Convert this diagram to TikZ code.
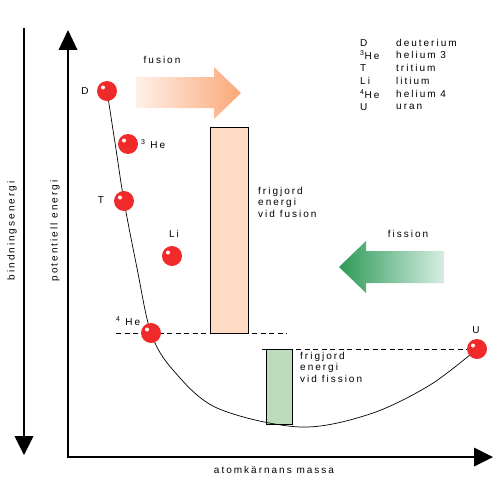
\documentclass[tikz,border=0pt]{standalone}
\usepackage{fontspec}
\setmainfont{Liberation Sans}[LetterSpace=20]
\begin{document}
\begin{tikzpicture}[x=1pt,y=-1pt,
  txt/.style={inner sep=0pt,font=\fontsize{10}{11.5}\selectfont},
  ball/.style={circle,fill=ballred,minimum size=20pt,inner sep=0pt,
    path picture={\fill[white] ([xshift=-4pt,yshift=3.5pt]path picture bounding box.center) circle (2pt);}},
  axisline/.style={line width=1.2pt},
  tip/.style={fill=black},
  dashline/.style={dashed,dash pattern=on 5pt off 3.5pt,line width=0.7pt}
]
\definecolor{ballred}{HTML}{F02A2A}
\definecolor{peach}{HTML}{FFDBC6}
\definecolor{paleg}{HTML}{BCDDBC}
\definecolor{plight}{HTML}{FEF0E8}
\definecolor{pdark}{HTML}{FBA878}
\definecolor{gdark}{HTML}{2E9A58}
\definecolor{glight}{HTML}{D6EEE2}
\useasboundingbox (0,0) rectangle (500,487);
% axes
\coordinate (ya) at (68,457);
\coordinate (yb) at (68,48);
\coordinate (xb) at (477,457);
\draw[axisline] (yb) -- (ya) -- (xb);
\fill[tip] (68,30) -- (77.5,50) -- (58.5,50) -- cycle;
\fill[tip] (493,457) -- (474,447.5) -- (474,466.5) -- cycle;
\coordinate (la) at (24,28);
\coordinate (lb) at (24,437);
\draw[axisline] (la) -- (lb);
\fill[tip] (24,455) -- (33.5,436) -- (14.5,436) -- cycle;
\node[txt,rotate=90] (bind) at (12,231) {bindningsenergi};
\node[txt,rotate=90] (pot) at (55,231) {potentiell energi};
\node[txt] (massa) at (274,470) {atomkärnans massa};
% positions
\coordinate (cD) at (107,91);
\coordinate (cHe3) at (128,144);
\coordinate (cT) at (124,201);
\coordinate (cLi) at (172,256);
\coordinate (cHe4) at (151,333);
\coordinate (cU) at (477,349);
% energy boxes
\draw[fill=peach,line width=0.8pt] (210,127) rectangle (248,333);
\draw[fill=paleg,line width=0.8pt] (266,349) rectangle (292,424);
% dashed levels
\coordinate (d1a) at (116,333);
\coordinate (d1b) at (287,333);
\coordinate (d2a) at (262,349);
\draw[dashline] (d1a) -- (d1b);
\draw[dashline] (d2a) -- (cU);
% curve
\draw[line width=0.7pt] plot[smooth,tension=0.55] coordinates {(cD) (115.5,146) (cT) (137,268) (cHe4) (173,370) (217,408) (300,427) (370,414) (430,385) (cU)};
% balls
\node[ball] (D) at (cD) {};
\node[ball] (He3) at (cHe3) {};
\node[ball] (T) at (cT) {};
\node[ball] (Li) at (cLi) {};
\node[ball] (He4) at (cHe4) {};
\node[ball] (U) at (cU) {};
% ball labels
\node[txt] (lD) at (85,91) {D};
\node[txt,anchor=west] (lHe3) at (141,144) {\textsuperscript{3} He};
\node[txt] (lT) at (101,200) {T};
\node[txt] (lLi) at (174,234) {Li};
\node[txt,anchor=west] (lHe4) at (116,321) {\textsuperscript{4} He};
\node[txt] (lU) at (476,330) {U};
% fusion arrow
\shade[left color=plight,right color=pdark] (136,77) -- (214,77) -- (214,67) -- (241,93) -- (214,119) -- (214,108) -- (136,108) -- cycle;
\node[txt] (lfus) at (162,60) {fusion};
% fission arrow
\shade[left color=gdark,right color=glight] (444,251) -- (366,251) -- (366,241) -- (339,267) -- (366,293) -- (366,283) -- (444,283) -- cycle;
\node[txt] (lfis) at (408,234) {fission};
% box texts
\node[txt,anchor=north west,align=left] (tfus) at (258,187) {frigjord\\energi\\vid fusion};
\node[txt,anchor=north west,align=left] (tfis) at (300,352) {frigjord\\energi\\vid fission};
% legend
\foreach \a/\b/\y [count=\i] in {D/deuterium/43,\textsuperscript{3}He/helium 3/55,T/tritium/68,Li/litium/81,\textsuperscript{4}He/helium 4/94,U/uran/107}{
  \node[txt,anchor=west] (ka\i) at (360,\y) {\a};
  \node[txt,anchor=west] (kb\i) at (396,\y) {\b};
}
\end{tikzpicture}
\end{document}
